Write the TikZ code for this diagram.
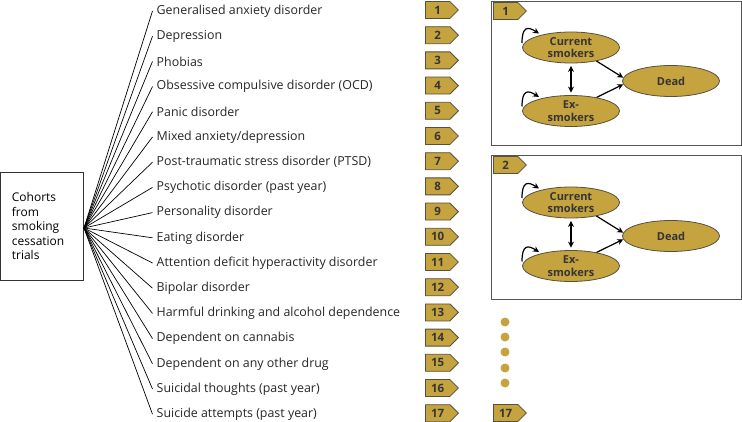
\documentclass[tikz,border=0pt]{standalone}
\usepackage{fontspec}
\setmainfont{Open Sans}
\usetikzlibrary{shapes.geometric,shapes.symbols,arrows.meta,calc}
\definecolor{gold}{HTML}{C5A33E}
\definecolor{tagline}{HTML}{55503F}
\definecolor{tagtxt}{HTML}{353535}
\definecolor{frame}{HTML}{555555}
\tikzset{
  lbl/.style={anchor=west, inner xsep=4pt, inner ysep=1pt, font=\fontsize{12.4}{14}\selectfont, text=black!85},
  fan/.style={line width=0.7pt, black},
  tagbox/.style={signal, signal to=east, signal pointer angle=90, fill=gold, draw=tagline, line width=0.8pt,
     minimum height=17pt, minimum width=33pt, inner xsep=3pt, inner ysep=0pt, anchor=west,
     font=\bfseries\fontsize{11.5}{12}\selectfont, text=tagtxt},
  ell/.style={ellipse, fill=gold, draw=tagline, line width=0.8pt, minimum width=97pt, minimum height=31pt,
     inner sep=0pt, align=center, font=\bfseries\fontsize{11}{12.5}\selectfont, text=tagtxt},
  frm/.style={draw=frame, line width=0.9pt},
  arr/.style={line width=1.2pt, -{Stealth[length=6pt,width=6pt]}},
  darr/.style={line width=1.2pt, {Stealth[length=6pt,width=6pt]}-{Stealth[length=6pt,width=6pt]}, shorten <=2.5pt, shorten >=2.5pt},
  dot/.style={circle, fill=gold, minimum size=9pt, inner sep=0pt},
}
\begin{document}
\begin{tikzpicture}[x=1pt,y=-1pt]
\useasboundingbox (0,0) rectangle (742,422);
% left box
\node[draw=black!80, line width=0.8pt, anchor=north west, minimum width=83pt, minimum height=108pt,
      text width=60pt, inner xsep=11pt, align=left, font=\fontsize{12}{14.5}\selectfont] (cohort) at (0,172)
      {Cohorts\\from\\smoking\\cessation\\trials};
\coordinate (hub) at (84,228);
% labels
\foreach \i/\t in {1/{Generalised anxiety disorder}, 2/{Depression}, 3/{Phobias},
  4/{Obsessive compulsive disorder (OCD)}, 5/{Panic disorder}, 6/{Mixed anxiety/depression},
  7/{Post-traumatic stress disorder (PTSD)}, 8/{Psychotic disorder (past year)},
  9/{Personality disorder}, 10/{Eating disorder}, 11/{Attention deficit hyperactivity disorder},
  12/{Bipolar disorder}, 13/{Harmful drinking and alcohol dependence}, 14/{Dependent on cannabis},
  15/{Dependent on any other drug}, 16/{Suicidal thoughts (past year)}, 17/{Suicide attempts (past year)}}{
  \node[lbl] (l\i) at (152.5, {11+25.2*(\i-1)}) {\t};
  \draw[fan] (hub) -- (l\i.west);
  \node[tagbox] (t\i) at (425, {10+25.2*(\i-1)}) {\i};
}
% box 1
\node[frm, anchor=north west, minimum width=250pt, minimum height=144pt, inner sep=0pt] (box1) at (491,1) {};
\node[tagbox] (b1) at (493,11) {1};
\node[ell] (c1) at (571,47.5) {Current\\smokers};
\node[ell] (e1) at (571,111) {Ex-\\smokers};
\node[ell] (d1) at (671,81) {Dead};
\draw[darr] (c1.south) -- (e1.north);
\draw[arr] (c1.-28) -- (d1.176);
\draw[arr] (e1.28) -- (d1.184);
\draw[arr] ($(c1.center)+(-49,-4.5)$) .. controls +(0,-17) and +(-11,-7) .. ($(c1.center)+(-32,-14)$);
\draw[arr] ($(e1.center)+(-49,-4.5)$) .. controls +(0,-17) and +(-11,-7) .. ($(e1.center)+(-32,-14)$);
% box 2
\node[frm, anchor=north west, minimum width=250pt, minimum height=144pt, inner sep=0pt] (box2) at (491,155) {};
\node[tagbox] (b2) at (493,165) {2};
\node[ell] (c2) at (571,202.5) {Current\\smokers};
\node[ell] (e2) at (571,266) {Ex-\\smokers};
\node[ell] (d2) at (671,236) {Dead};
\draw[darr] (c2.south) -- (e2.north);
\draw[arr] (c2.-28) -- (d2.176);
\draw[arr] (e2.28) -- (d2.184);
\draw[arr] ($(c2.center)+(-49,-4.5)$) .. controls +(0,-17) and +(-11,-7) .. ($(c2.center)+(-32,-14)$);
\draw[arr] ($(e2.center)+(-49,-4.5)$) .. controls +(0,-17) and +(-11,-7) .. ($(e2.center)+(-32,-14)$);
% dots
\foreach \j/\yy in {1/322,2/337,3/352,4/368,5/383}{
  \node[dot] (dt\j) at (505,\yy) {};
}
\node[tagbox] (b17) at (493,413) {17};
\end{tikzpicture}
\end{document}
